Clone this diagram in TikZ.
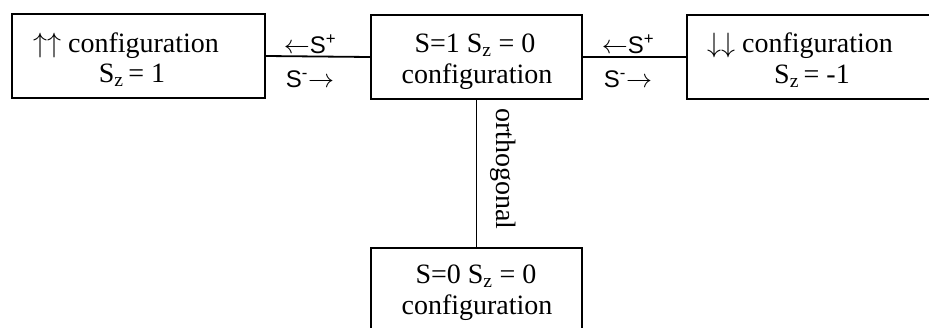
\RequirePackage{fix-cm}
\documentclass[tikz,border=0pt]{standalone}
\usepackage{fontspec}
\setmainfont{Liberation Serif}
\setsansfont{Liberation Sans}
\newcommand{\opS}[1]{{\sffamily\fontsize{24}{26}\selectfont S\textsuperscript{#1}}}
\begin{document}
\begin{tikzpicture}[x=1pt,y=-1pt,
  box/.style={draw=black,line width=1.8pt,rectangle,inner sep=0pt,
    minimum height=84pt},
  wide/.style={box,minimum width=253pt},
  narrow/.style={box,minimum width=211pt},
  txt/.style={inner sep=0pt,anchor=base,font=\fontsize{28}{30}\selectfont},
  op/.style={inner sep=0pt,anchor=base,font=\fontsize{26}{28}\selectfont},
  link/.style={line width=1.8pt,draw=black}]
\useasboundingbox (0,0) rectangle (929,327);
\clip (0,0) rectangle (929,327);

% configuration boxes
\node[wide]   (up)   at (138.5,56) {};
\node[narrow] (mid)  at (476.5,57) {};
\node[wide]   (down) at (813.5,57) {};
\node[narrow] (sing) at (476.5,290) {};

% connectors
\draw[link] (up.east) -- (mid.west);
\draw[link] (mid.east) -- (down.west);
\draw[link] (mid.south) -- (sing.north);

% box texts
\node[txt] (upA)   at (126,52) {$\uparrow\uparrow$ configuration};
\node[txt] (upB)   at (132,82) {S\textsubscript{z}\,= 1};
\node[txt] (midA)  at (475,52) {S=1 S\textsubscript{z} = 0};
\node[txt] (midB)  at (477,83) {configuration};
\node[txt] (downA) at (800,52) {$\downarrow\downarrow$ configuration};
\node[txt] (downB) at (812,83) {S\textsubscript{z}\,= -1};
\node[txt] (singA) at (476,283) {S=0 S\textsubscript{z} = 0};
\node[txt] (singB) at (477,314) {configuration};

% ladder operator labels
\node[op] (lp) at (310,53) {$\leftarrow$\opS{+}};
\node[op] (lm) at (310,87) {\opS{-}$\rightarrow$};
\node[op] (rp) at (628,53) {$\leftarrow$\opS{+}};
\node[op] (rm) at (628,87) {\opS{-}$\rightarrow$};

% label of the vertical link
\node[txt,rotate=-90] (orth) at (496,169) {orthogonal};
\end{tikzpicture}
\end{document}
